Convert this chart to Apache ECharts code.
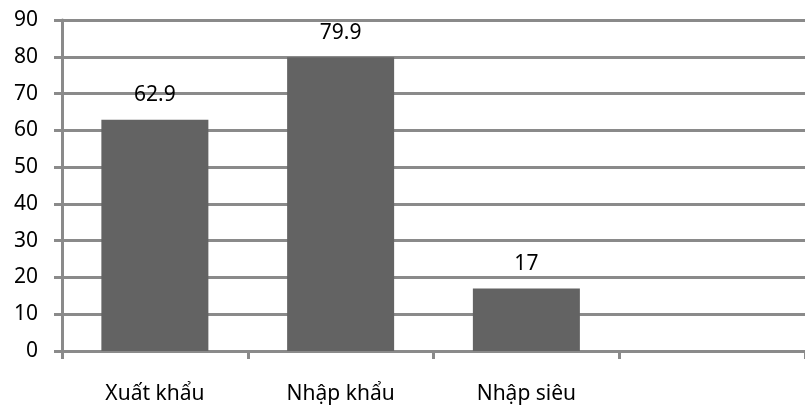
<!DOCTYPE html>
<html>
<head>
<meta charset="utf-8">
<script src="https://cdn.jsdelivr.net/npm/echarts@6/dist/echarts.min.js"></script>
<style>
  html, body { margin: 0; padding: 0; background: #fff; }
  #chart { width: 805px; height: 407px; }
</style>
</head>
<body>
<div id="chart"></div>
<script>
const categories = ["Xuất khẩu", "Nhập khẩu", "Nhập siêu", ""];
const values = [62.9, 79.9, 17];
const yTicks = [0, 10, 20, 30, 40, 50, 60, 70, 80, 90];

const gray = "#8a8a8a";
const font = "Noto Sans";

const chart = echarts.init(document.getElementById("chart"));
chart.setOption({
  animation: false,
  grid: { left: 62, width: 748, top: 20, bottom: 56 },
  xAxis: {
    type: "category",
    data: categories,
    boundaryGap: true,
    axisLine: { lineStyle: { color: gray, width: 3 } },
    axisTick: { show: true, length: 8, lineStyle: { color: gray, width: 3 } },
    axisLabel: { color: "#000", fontFamily: font, fontSize: 21, margin: 33 },
  },
  yAxis: {
    type: "value",
    min: yTicks[0],
    max: yTicks[yTicks.length - 1],
    interval: 10,
    axisLine: { show: true, lineStyle: { color: gray, width: 3 } },
    axisTick: { show: true, length: 8, lineStyle: { color: gray, width: 3 } },
    splitLine: { lineStyle: { color: gray, width: 3 } },
    axisLabel: { color: "#000", fontFamily: font, fontSize: 21, margin: 24 },
  },
  series: [
    {
      type: "bar",
      data: values,
      barWidth: 107,
      itemStyle: { color: "#636363" },
      label: {
        show: true,
        position: "top",
        distance: 14,
        color: "#000",
        fontFamily: font,
        fontSize: 21,
      },
    },
  ],
});
</script>
</body>
</html>
